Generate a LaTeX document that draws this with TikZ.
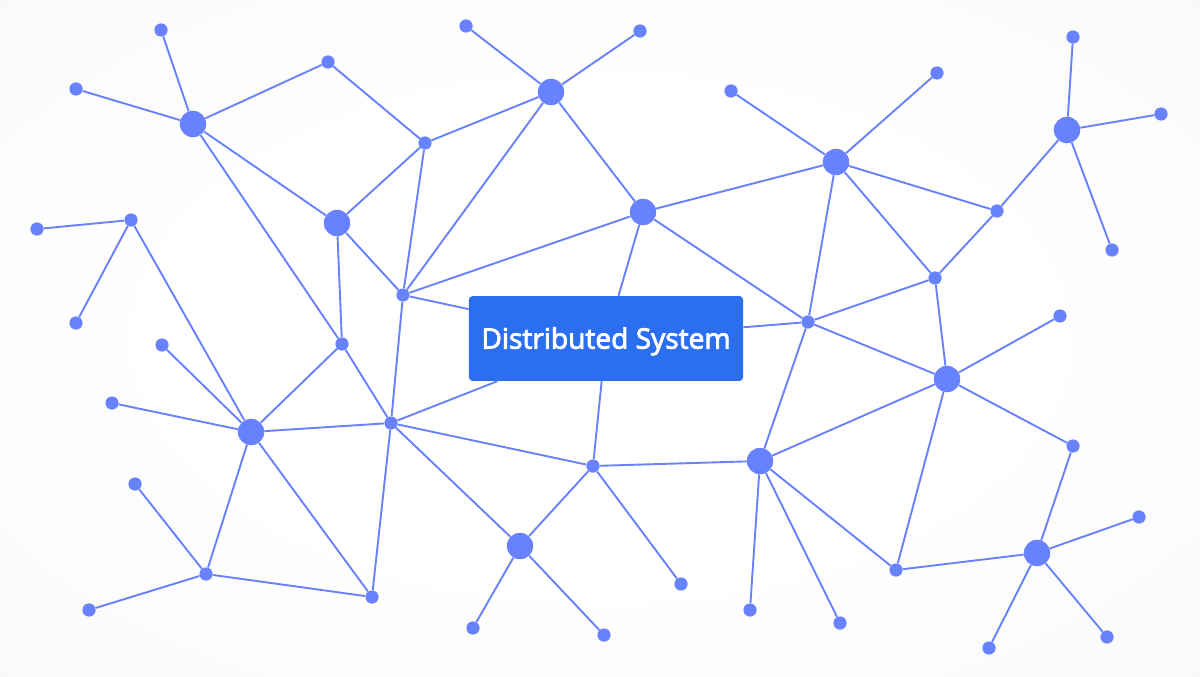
\documentclass[tikz,border=0pt]{standalone}
\usepackage{fontspec}
\newfontfamily\boxfont{Open Sans}[FakeBold=3]
\definecolor{netblue}{RGB}{104,129,252}
\definecolor{boxblue}{RGB}{43,110,240}
\definecolor{bgedge}{RGB}{236,236,236}
\pgfdeclareradialshading{bgglow}{\pgfpointorigin}{color(0bp)=(white); color(18bp)=(white); color(50bp)=(bgedge!55!white); color(71bp)=(bgedge)}

\begin{document}
\begin{tikzpicture}[x=0.025cm,y=-0.025cm]
    \tikzstyle{vertex}=[circle,fill=netblue,minimum size=0.33cm,inner sep=0pt]
    \tikzstyle{hub}=[circle,fill=netblue,minimum size=0.66cm,inner sep=0pt]
    \tikzstyle{link}=[draw=netblue,line width=1.35pt]
    \tikzstyle{sysbox}=[rectangle,rounded corners=2.5pt,fill=boxblue,text=white,
        minimum width=6.85cm,minimum height=2.12cm,font=\boxfont\fontsize{20}{24}\selectfont]

    \shade[shading=bgglow] (0,0) rectangle (1200,676);

    \foreach \num/\x/\y in {1/193/124, 2/337/223, 3/551/92, 4/643/212, 5/836/162, 6/1067/130,
                            7/251/432, 8/520/546, 9/760/461, 10/947/379, 11/1037/553}
            \node[hub] (H-\num) at (\x,\y) {};

    \foreach \num/\x/\y in {1/161/30, 2/76/89, 3/328/62, 4/425/143, 5/466/26, 6/640/31,
                            7/403/295, 8/342/344, 9/131/220, 10/37/229, 11/76/323, 12/162/345,
                            13/112/403, 14/391/423, 15/135/484, 16/206/574, 17/89/610, 18/372/597,
                            19/593/466, 20/473/628, 21/604/635, 22/681/584, 23/731/91, 24/937/73,
                            25/808/322, 26/997/211, 27/935/278, 28/1073/37, 29/1161/114, 30/1112/250,
                            31/1060/316, 32/1073/446, 33/750/610, 34/840/623, 35/896/570, 36/1139/517,
                            37/989/648, 38/1107/637}
            \node[vertex] (V-\num) at (\x,\y) {};

    \node[sysbox] (sys) at (606,338.5) {\raisebox{-0.07cm}[\height][\depth]{Distributed System}};

        \foreach \from/\to in {H-1/V-1, H-1/V-2, H-1/V-3, H-1/H-2, H-1/V-8,
                               V-3/V-4, V-4/H-3, V-4/H-2, V-4/V-7, H-2/V-7, H-2/V-8,
                               H-3/V-5, H-3/V-6, H-3/H-4, H-3/V-7,
                               H-4/V-7, H-4/H-5, H-4/V-25, H-4/sys,
                               V-7/sys, V-7/V-14, V-8/H-7, V-8/V-14,
                               V-9/V-10, V-9/V-11, V-9/H-7,
                               H-7/V-12, H-7/V-13, H-7/V-14, H-7/V-16, H-7/V-18,
                               V-16/V-15, V-16/V-17, V-16/V-18,
                               V-14/V-18, V-14/V-19, V-14/H-8, V-14/sys,
                               V-19/H-8, V-19/V-22, V-19/H-9, V-19/sys,
                               H-8/V-20, H-8/V-21,
                               H-9/V-25, H-9/V-33, H-9/V-34, H-9/V-35, H-9/H-10,
                               V-25/H-5, V-25/V-27, V-25/H-10, V-25/sys,
                               H-5/V-23, H-5/V-24, H-5/V-26, H-5/V-27,
                               V-26/H-6, V-26/V-27, H-6/V-28, H-6/V-29, H-6/V-30,
                               V-27/H-10, H-10/V-31, H-10/V-32, H-10/V-35,
                               V-35/H-11, H-11/V-32, H-11/V-36, H-11/V-37, H-11/V-38}
            \draw[link] (\from) -- (\to);
\end{tikzpicture}
\end{document}
